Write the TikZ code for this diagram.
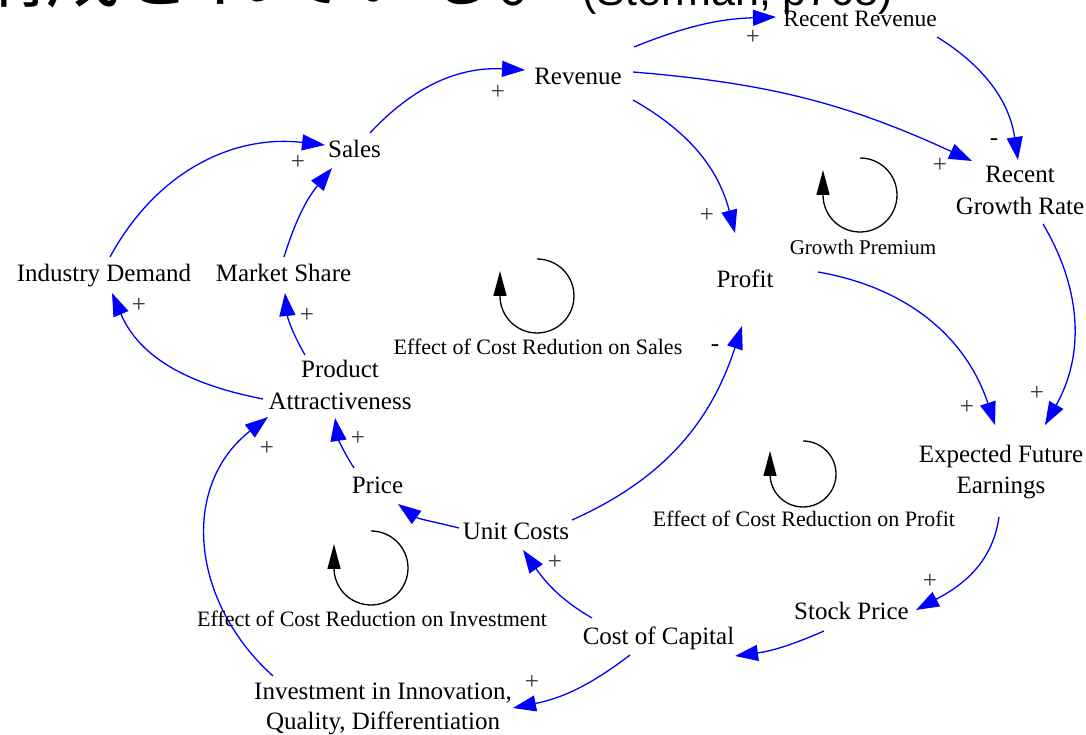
\documentclass[tikz,border=0pt]{standalone}
\usepackage{fontspec}
\setmainfont{Liberation Serif}
\newfontfamily\jpfont{Noto Sans CJK JP}
\newfontfamily\citefont{Liberation Sans}
\usetikzlibrary{arrows.meta}
\definecolor{linkblue}{RGB}{0,0,255}
\definecolor{signgray}{RGB}{51,51,51}
\begin{document}
\begin{tikzpicture}[x=1pt,y=1pt,
  var/.style={anchor=base, inner sep=0pt, align=center, font=\fontsize{25}{32}\selectfont},
  looplbl/.style={anchor=base, inner sep=0pt, font=\fontsize{22}{26}\selectfont},
  sign/.style={inner sep=0pt, text=signgray, font=\fontsize{25}{25}\selectfont},
  link/.style={draw=linkblue, line width=1.3pt, -{Triangle[length=23pt,width=16pt]}},
  loopline/.style={draw=black, line width=1.3pt, -{Triangle[length=25pt,width=13pt]}},
]
\useasboundingbox (0,0) rectangle (1086,735);

% heading of the slide, running off the top edge
\node[anchor=base west, inner sep=0pt, font=\jpfont\fontsize{76}{76}\selectfont] (heading) at (-31,733) {構成されている。};
\node[anchor=base west, inner sep=0pt, font=\citefont\fontsize{43}{43}\selectfont] (cite) at (582,729) {(Sterman, p768)};

% variables (two-line ones are placed by the baseline of their last line)
\node[var] (rev)    at (578,650)  {Revenue};
\node[var, font=\fontsize{23.5}{28}\selectfont] (recrev) at (860,708) {Recent Revenue};
\node[var] (sales)  at (354.5,577) {Sales};
\node[var] (rgr)    at (1020,520) {Recent\\Growth Rate};
\node[var] (indd)   at (104,453)  {Industry Demand};
\node[var] (mshare) at (283.5,453) {Market Share};
\node[var] (profit) at (745,447)  {Profit};
\node[var] (pa)     at (340,325)  {Product\\Attractiveness};
\node[var, font=\fontsize{25}{31}\selectfont] (efe) at (1001,241) {Expected Future\\Earnings};
\node[var] (price)  at (377.5,241) {Price};
\node[var] (uc)     at (516,195)  {Unit Costs};
\node[var] (stock)  at (851.5,115) {Stock Price};
\node[var] (cc)     at (658.5,90) {Cost of Capital};
\node[var, font=\fontsize{25}{30}\selectfont] (inv) at (383,5) {Investment in Innovation,\\Quality, Differentiation};

% causal links
\draw[link] ([shift={(56,38)}]rev.base) to[bend left=10] ([shift={(-84,10)}]recrev.base);
\draw[link] ([shift={(55,13)}]rev.base) to[bend left=10] ([shift={(-48,54)}]rgr.base);
\draw[link] ([shift={(55,-15)}]rev.base) to[bend left=23] ([shift={(-10,55)}]profit.base);
\draw[link] ([shift={(77,-10)}]recrev.base) to[bend left=25] ([shift={(-2,55)}]rgr.base);
\draw[link] ([shift={(23,-9)}]rgr.base) to[bend left=30] ([shift={(44,69)}]efe.base);
\draw[link] ([shift={(73,16)}]profit.base) to[bend left=31] ([shift={(-6,69)}]efe.base);
\draw[link] ([shift={(-2,-23)}]efe.base) to[out=262,in=28] ([shift={(64.5,10)}]stock.base);
\draw[link] ([shift={(-27.5,-11)}]stock.base) to[bend left=8] ([shift={(76.5,-11)}]cc.base);
\draw[link] ([shift={(-66.5,27)}]cc.base) to[out=150,in=-55] ([shift={(7,-10)}]uc.base);
\draw[link] ([shift={(-28.5,-10)}]cc.base) to[bend left=13] ([shift={(130,22)}]inv.base);
\draw[link] ([shift={(-57,12)}]uc.base) to[out=166,in=-36] ([shift={(20.5,-10)}]price.base);
\draw[link] ([shift={(56,20)}]uc.base) to[out=24,in=-108] ([shift={(-3,-38)}]profit.base);
\draw[link] ([shift={(-23.5,26)}]price.base) to[bend left=12] ([shift={(-5,-8)}]pa.base);
\draw[link] ([shift={(-110,54)}]inv.base) to[out=138,in=-142,looseness=1.1] ([shift={(-72,-7)}]pa.base);
\draw[link] ([shift={(-35,55)}]pa.base) to[bend left=12] ([shift={(1.5,-11)}]mshare.base);
\draw[link] ([shift={(-77,11)}]pa.base) to[out=169,in=-67] ([shift={(8,-11)}]indd.base);
\draw[link] ([shift={(6,25)}]indd.base) to[bend left=34] ([shift={(-29.5,13)}]sales.base);
\draw[link] ([shift={(0.5,25)}]mshare.base) to[bend left=11] ([shift={(-22.5,-10)}]sales.base);
\draw[link] ([shift={(15.5,25)}]sales.base) to[bend left=25] ([shift={(-53,15)}]rev.base);

% polarities
\node[sign] (s1)  at (753,698) {+};
\node[sign] (s2)  at (940,570) {+};
\node[sign] (s3)  at (707,520) {+};
\node[sign, text=black] (s4)  at (994,593) {-};
\node[sign] (s5)  at (1037,342) {+};
\node[sign] (s6)  at (967,328) {+};
\node[sign] (s7)  at (930,154) {+};
\node[sign] (s9)  at (555,173) {+};
\node[sign] (s10) at (532,53) {+};
\node[sign, text=black] (s12) at (715,387) {-};
\node[sign] (s13) at (358,297) {+};
\node[sign] (s14) at (267,287) {+};
\node[sign] (s15) at (307,420) {+};
\node[sign] (s16) at (139,430) {+};
\node[sign] (s17) at (298,573) {+};
\node[sign] (s19) at (498,643) {+};

% loop markers
\coordinate (gpc) at (860,540);
\coordinate (lsc) at (537,439);
\coordinate (lpc) at (803,261);
\coordinate (lic) at (371,167);
\draw[loopline] ([yshift=37pt]gpc) arc[start angle=90, end angle=-180, radius=37] -- ++(0,25);
\draw[loopline] ([yshift=37pt]lsc) arc[start angle=90, end angle=-180, radius=37] -- ++(0,25);
\draw[loopline] ([yshift=33pt]lpc) arc[start angle=90, end angle=-180, radius=33] -- ++(0,23);
\draw[loopline] ([yshift=37pt]lic) arc[start angle=90, end angle=-180, radius=37] -- ++(0,24);

\node[looplbl, font=\fontsize{21}{25}\selectfont] (gp) at (863,480) {Growth Premium};
\node[looplbl] (lsales)  at (538,380) {Effect of Cost Redution on Sales};
\node[looplbl] (lprofit) at (804,208) {Effect of Cost Reduction on Profit};
\node[looplbl] (linv)    at (372,108) {Effect of Cost Reduction on Investment};
\end{tikzpicture}
\end{document}
